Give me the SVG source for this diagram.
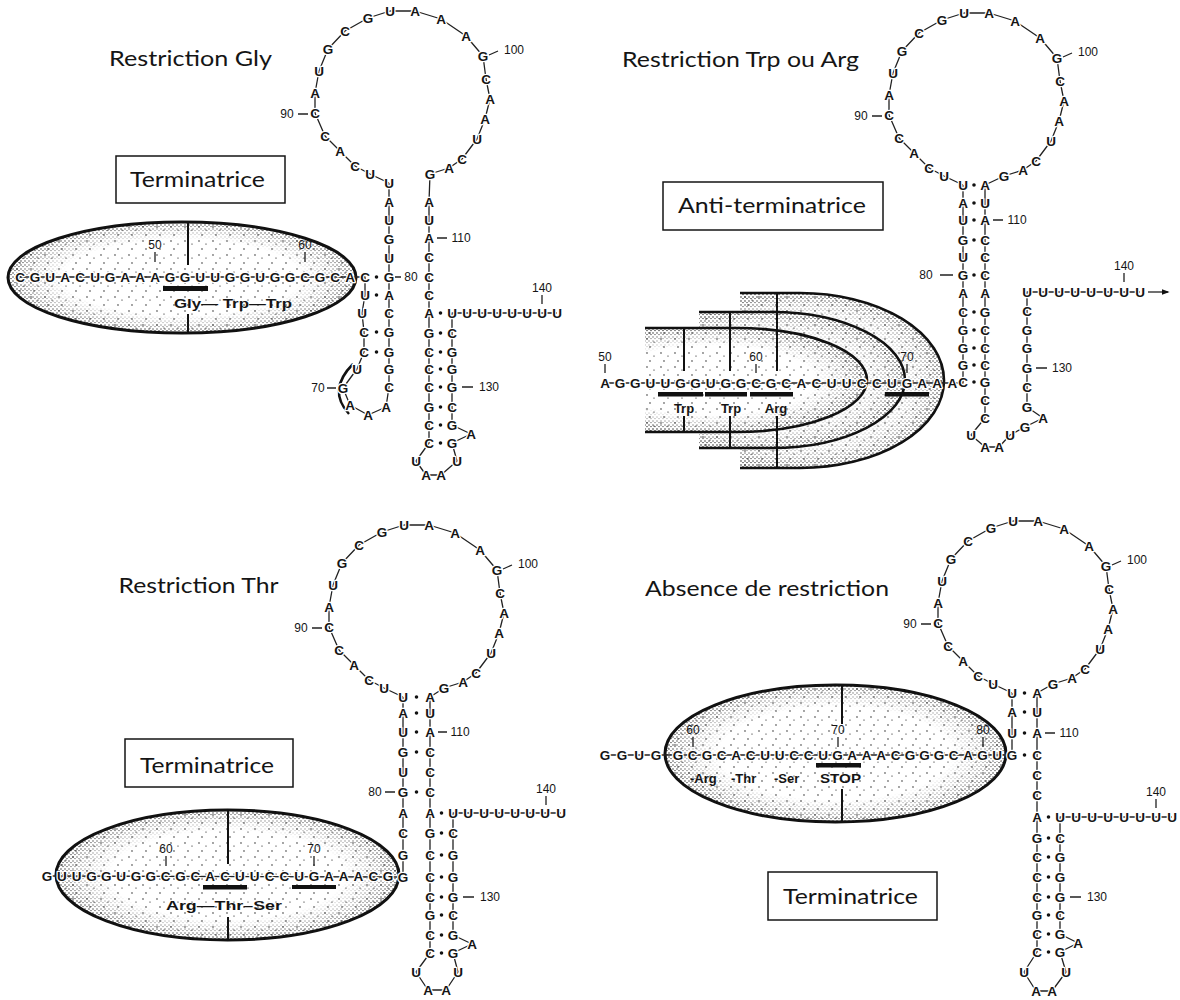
<svg xmlns="http://www.w3.org/2000/svg" width="1180" height="1000" viewBox="0 0 1180 1000">
<style>
.n{font-family:'Liberation Sans',Arial,sans-serif;font-size:13.5px;font-weight:bold;text-anchor:middle;dominant-baseline:central;fill:#151515;stroke:#fff;stroke-width:2.6px;paint-order:stroke;stroke-linejoin:round}
.num{font-family:'Liberation Sans',Arial,sans-serif;font-size:12px;text-anchor:middle;dominant-baseline:central;fill:#151515}
.lbl{font-family:'Liberation Sans',Arial,sans-serif;font-size:13px;font-weight:bold;fill:#151515}
.lblc{font-family:'Liberation Sans',Arial,sans-serif;font-size:13px;font-weight:bold;fill:#151515;text-anchor:middle}
.ttl{font-family:Lato,'Open Sans',sans-serif;font-size:22px;fill:#151515}
.box{fill:#fff;stroke:#151515;stroke-width:1.5}
.bb{fill:none;stroke:#222;stroke-width:1.3;stroke-linejoin:round}
.tk{stroke:#222;stroke-width:1.3;fill:none}
.dots{stroke:#111;stroke-width:3.6;stroke-linecap:round;fill:none}
.out{fill:none;stroke:#111;stroke-width:3}
.outd{fill:none;stroke:#111;stroke-width:2.6}
.vl{stroke:#111;stroke-width:2;fill:none}
.bar{fill:#111}
</style>
<defs>
<pattern id="sp" width="14" height="14" patternUnits="userSpaceOnUse">
<circle cx="3" cy="3" r=".65"/><circle cx="10" cy="6" r=".6"/><circle cx="6" cy="11" r=".65"/>
</pattern>
<pattern id="dn" width="4" height="4" patternUnits="userSpaceOnUse">
<circle cx="1" cy="1" r=".7"/><circle cx="3" cy="2.6" r=".65"/>
</pattern>
<radialGradient id="rg" cx="0.5" cy="0.5" r="0.5"><stop offset="0.68" stop-color="#000"/><stop offset="0.88" stop-color="#888"/><stop offset="1" stop-color="#fff"/></radialGradient>
<radialGradient id="rgD" cx="0.3" cy="0.5" r="0.5" gradientTransform="translate(0.3 0.5) scale(1.4 1) translate(-0.3 -0.5)"><stop offset="0.66" stop-color="#000"/><stop offset="0.88" stop-color="#888"/><stop offset="1" stop-color="#fff"/></radialGradient>
<mask id="edge" maskUnits="objectBoundingBox" maskContentUnits="objectBoundingBox" x="-0.05" y="-0.05" width="1.1" height="1.1"><rect x="0" y="0" width="1" height="1" fill="url(#rg)"/></mask>
<mask id="edgeD" maskUnits="objectBoundingBox" maskContentUnits="objectBoundingBox" x="-0.05" y="-0.05" width="1.1" height="1.1"><rect x="0" y="0" width="1" height="1" fill="url(#rgD)"/></mask>
<marker id="ah" viewBox="0 0 10 10" refX="8" refY="5" markerWidth="8" markerHeight="8" orient="auto" markerUnits="userSpaceOnUse"><path d="M0,1.5L10,5L0,8.5Z" fill="#111"/></marker>
<g id="loopLine"><polyline class="bb" points="-13,86 -32,77 -47,69 -62,54 -77,39 -87,16 -87,-4 -83,-26 -74,-48 -57,-66 -34,-79 -12,-86 13,-86 39,-78 64,-61 81,-41 84,-18 88,2 83,22 75,42 60,62 47,71 28,77"/></g>
<g id="loopText">
<text class="n" x="-13 -32 -47 -62 -77 -87 -87 -83 -74 -57 -34 -12 13 39 64 81 84 88 83 75 60 47 28" y="86 77 69 54 39 16 -4 -26 -48 -66 -79 -86 -86 -78 -61 -41 -18 2 22 42 62 71 77">UUCACCAUGCGUAAAGCAAUCAG</text>
<path class="tk" d="M-104,17H-94M87,-42L96,-46"/>
<text class="num" x="-115" y="17">90</text>
<text class="num" x="112" y="-47">100</text>
</g>
</defs>
<rect width="1180" height="1000" fill="#fff"/>

<!-- Stippled polymerase / ribosome shapes -->
<g id="p1-rnap">
<ellipse cx="182" cy="277.5" rx="174" ry="55.5" fill="#fff"/>
<ellipse cx="182" cy="277.5" rx="174" ry="55.5" fill="url(#sp)"/>
<ellipse cx="182" cy="277.5" rx="174" ry="55.5" fill="url(#dn)" mask="url(#edge)"/>
<ellipse cx="182" cy="277.5" rx="174" ry="55.5" class="out"/>
<path class="vl" d="M188,222V265M188,314V333"/>
</g>
<g id="p2-ribosomes">
<path d="M740,293H800A144,87.5 0 0 1 800,468H740Z" fill="#fff"/>
<path d="M740,293H800A144,87.5 0 0 1 800,468H740Z" fill="url(#sp)"/>
<path d="M740,293H800A144,87.5 0 0 1 800,468H740Z" fill="url(#dn)" mask="url(#edgeD)"/>
<path d="M740,293H800A144,87.5 0 0 1 800,468H740" class="outd"/>
<path d="M699,312H772A133,68 0 0 1 772,448H699Z" fill="#fff"/>
<path d="M699,312H772A133,68 0 0 1 772,448H699Z" fill="url(#sp)"/>
<path d="M699,312H772A133,68 0 0 1 772,448H699Z" fill="url(#dn)" mask="url(#edgeD)"/>
<path d="M699,312H772A133,68 0 0 1 772,448H699" class="outd"/>
<path d="M645,328H737A130,52 0 0 1 737,432H645Z" fill="#fff"/>
<path d="M645,328H737A130,52 0 0 1 737,432H645Z" fill="url(#sp)"/>
<path d="M645,328H737A130,52 0 0 1 737,432H645Z" fill="url(#dn)" mask="url(#edgeD)"/>
<path d="M645,328H737A130,52 0 0 1 737,432H645" class="outd"/>
<path class="vl" d="M684,328V371M684,416V432M730,312V371M730,416V448M777,293V371M777,416V468"/>
</g>
<g id="p3-rnap">
<ellipse cx="227.5" cy="875" rx="171.5" ry="65" fill="#fff"/>
<ellipse cx="227.5" cy="875" rx="171.5" ry="65" fill="url(#sp)"/>
<ellipse cx="227.5" cy="875" rx="171.5" ry="65" fill="url(#dn)" mask="url(#edge)"/>
<ellipse cx="227.5" cy="875" rx="171.5" ry="65" class="out"/>
<path class="vl" d="M228,810V864M228,917V940"/>
</g>
<g id="p4-rnap">
<ellipse cx="835.5" cy="753.5" rx="170.5" ry="68.5" fill="#fff"/>
<ellipse cx="835.5" cy="753.5" rx="170.5" ry="68.5" fill="url(#sp)"/>
<ellipse cx="835.5" cy="753.5" rx="170.5" ry="68.5" fill="url(#dn)" mask="url(#edge)"/>
<ellipse cx="835.5" cy="753.5" rx="170.5" ry="68.5" class="out"/>
<path class="vl" d="M842,685V724M842,789V822"/>
</g>

<!-- Backbone connectors -->
<g id="backbones">
<polyline class="bb" points="20,277 365,277 365,295 362,313 364,332 364,352 357,369 343,388 350,405 368,415 386,407 389,387 389,183"/>
<use href="#loopLine" transform="translate(402 97)"/>
<polyline class="bb" points="430,174 429,202 429,443 416,461 426,475 441,475 457,461 452,443 471,434 452,425 452,313 557,313"/>
<polyline class="bb" points="605,383 963,383 963,185"/>
<use href="#loopLine" transform="translate(976 99)"/>
<polyline class="bb" points="1004,176 985,185 985,418 971,435 985,447 999,447 1010,435 1025,427 1043,418 1027,407 1027,292 1140,292"/>
<line class="bb" x1="1148" y1="292" x2="1168" y2="292" marker-end="url(#ah)"/>
<polyline class="bb" points="47,876 403,877 403,697"/>
<use href="#loopLine" transform="translate(416 611)"/>
<polyline class="bb" points="444,688 430,697 430,953 416,972 428,990 446,990 458,972 453,953 472,944 453,935 453,813 561,813"/>
<polyline class="bb" points="605,755 1012,755 1012,693"/>
<use href="#loopLine" transform="translate(1025 607)"/>
<polyline class="bb" points="1053,684 1037,693 1037,952 1024,972 1036,991 1052,991 1066,972 1060,952 1078,943 1060,934 1060,817 1172,817"/>
</g>

<!-- Panel 1 : Restriction Gly -->
<g id="p1-title"><text class="ttl" x="109" y="66" textLength="163" lengthAdjust="spacingAndGlyphs">Restriction Gly</text></g>
<g id="p1-box"><rect class="box" x="116" y="156" width="169" height="47"/><text class="ttl" x="130" y="187" font-size="21" textLength="135" lengthAdjust="spacingAndGlyphs">Terminatrice</text></g>
<g id="p1-rna">
<path d="M353,364Q327,390 349,414" fill="none" stroke="#111" stroke-width="2.5"/>
<rect class="bar" x="163" y="286" width="45" height="5"/>
<text class="n" x="20 35 50 65 80 95 110 125 140 155 170 185 200 215 230 245 260 275 290 305 320 335 350" y="277">CGUACUGAAAGGUUGGUGGCGCA</text>
<text class="n" x="365 365 362 364 364 357 343 350 368 386 389 389 389 389 389 389 389 389 389 389 389" y="277 295 313 332 352 369 388 405 415 407 387 369 352 332 313 295 277 258 239 220 202">CUUCCUGAAACGGGCAGUGUA</text>
<use href="#loopText" transform="translate(402 97)"/>
<text class="n" x="429 429 429 429 429 429 429 429 429 429 429 429 429 429" y="202 220 238 257 277 295 313 333 352 369 387 407 425 443">AUACCCAGCCCGCC</text>
<text class="n" x="416 426 441 457" y="461 475 475 461">UAAU</text>
<text class="n" x="452 471 452 452 452 452 452 452" y="443 434 425 407 387 369 352 333">GAGCGGGC</text>
<text class="n" x="452 467 482 497 512 527 542 557" y="313">UUUUUUUU</text>
<path class="dots" d="M376.5,277h0M376.5,295h0M376.5,332h0M376.5,352h0M440.5,313h0M440.5,333h0M440.5,352h0M440.5,369h0M440.5,387h0M440.5,407h0M440.5,425h0M440.5,443h0"/>
<path class="tk" d="M155,252V262M305,252V262M327,388H336M395,277H401M437,238H447M462,387H473M542,295V304"/>
<text class="num" x="155" y="245">50</text><text class="num" x="305" y="245">60</text><text class="num" x="318" y="388">70</text><text class="num" x="411" y="277">80</text><text class="num" x="461" y="238">110</text><text class="num" x="489" y="387">130</text><text class="num" x="542" y="288">140</text>
<text class="lbl" x="174" y="308" textLength="118" lengthAdjust="spacingAndGlyphs">Gly— Trp—Trp</text>
</g>

<!-- Panel 2 : Restriction Trp ou Arg -->
<g id="p2-title"><text class="ttl" x="622" y="67" textLength="237" lengthAdjust="spacingAndGlyphs">Restriction Trp ou Arg</text></g>
<g id="p2-box"><rect class="box" x="663" y="182" width="220" height="48"/><text class="ttl" x="678" y="213" font-size="21" textLength="188" lengthAdjust="spacingAndGlyphs">Anti-terminatrice</text></g>
<g id="p2-rna">
<rect class="bar" x="658" y="392" width="45" height="4.5"/><rect class="bar" x="705" y="392" width="42" height="4.5"/><rect class="bar" x="750" y="392" width="43" height="4.5"/><rect class="bar" x="885" y="392" width="44" height="4.5"/>
<text class="n" x="605 620.1 635.2 650.3 665.4 680.5 695.6 710.7 725.8 740.9 756 771.1 786.2 801.3 816.4 831.5 846.6 861.7 876.8 891.9 907 922.1 937.2 952.3" y="383">AGGUUGGUGGCGCACUUCCUGAAA</text>
<text class="n" x="963 963 963 963 963 963 963 963 963 963 963" y="382 365 348 330 312 293 275 257 240 220 203">CGGGCAGUGUA</text>
<use href="#loopText" transform="translate(976 99)"/>
<text class="n" x="985 985 985 985 985 985 985 985 985 985 985 985 985 985" y="185 203 220 240 257 275 293 312 330 348 365 382 400 418">AUACCCAGCCCGCC</text>
<text class="n" x="971 985 999 1010" y="435 447 447 435">UAAU</text>
<text class="n" x="1025 1043 1027 1027 1027 1027 1027 1027" y="427 418 407 387 368 348 330 311">GAGCGGGC</text>
<text class="n" x="1027 1043 1059 1075 1091 1108 1124 1140" y="292">UUUUUUUU</text>
<path class="dots" d="M974,185h0M974,203h0M974,220h0M974,240h0M974,275h0M974,312h0M974,330h0M974,348h0M974,365h0M974,382h0"/>
<path class="tk" d="M605,364V373M756,364V373M907,364V373M940,275H953M993,220H1003M1036,368H1047M1124,273V282"/>
<text class="num" x="605" y="357">50</text><text class="num" x="756" y="357">60</text><text class="num" x="907" y="357">70</text><text class="num" x="926" y="275">80</text><text class="num" x="1017" y="220">110</text><text class="num" x="1062" y="368">130</text><text class="num" x="1124" y="266">140</text>
<text class="lblc" x="684" y="413">Trp</text><text class="lblc" x="731" y="413">Trp</text><text class="lblc" x="776" y="413">Arg</text>
</g>

<!-- Panel 3 : Restriction Thr -->
<g id="p3-title"><text class="ttl" x="118.5" y="593" textLength="160" lengthAdjust="spacingAndGlyphs">Restriction Thr</text></g>
<g id="p3-box"><rect class="box" x="125" y="739" width="168" height="48"/><text class="ttl" x="140" y="773" font-size="21" textLength="134" lengthAdjust="spacingAndGlyphs">Terminatrice</text></g>
<g id="p3-rna">
<rect class="bar" x="203" y="885" width="44" height="4.5"/><rect class="bar" x="292" y="885" width="44" height="4"/>
<text class="n" x="47 61.8 76.7 91.5 106.3 121.2 136 150.8 165.6 180.5 195.3 210.1 225 239.8 254.6 269.5 284.3 299.1 313.9 328.8 343.6 358.4 373.3 388.1" y="876">GUUGGUGGCGCACUUCCUGAAACG</text>
<text class="n" x="403 403 403 403 403 403 403 403 403" y="877 855 833 813 792 772 752 732 713">GGCAGUGUA</text>
<use href="#loopText" transform="translate(416 611)"/>
<text class="n" x="430 430 430 430 430 430 430 430 430 430 430 430 430 430" y="697 713 732 752 772 792 813 833 855 877 897 915 935 953">AUACCCAGCCCGCC</text>
<text class="n" x="416 428 446 458" y="972 990 990 972">UAAU</text>
<text class="n" x="453 472 453 453 453 453 453 453" y="953 944 935 915 897 877 855 833">GAGCGGGC</text>
<text class="n" x="453 468 484 499 515 530 545 561" y="813">UUUUUUUU</text>
<path class="dots" d="M416.5,697h0M416.5,713h0M416.5,732h0M416.5,752h0M416.5,792h0M441.5,813h0M441.5,833h0M441.5,855h0M441.5,877h0M441.5,897h0M441.5,915h0M441.5,935h0M441.5,953h0"/>
<path class="tk" d="M166,856V866M314,856V866M385,792H395M438,732H447M463,897H474M546,796V805"/>
<text class="num" x="166" y="849">60</text><text class="num" x="314" y="849">70</text><text class="num" x="375" y="792">80</text><text class="num" x="460" y="732">110</text><text class="num" x="490" y="897">130</text><text class="num" x="546" y="789">140</text>
<text class="lbl" x="166" y="910" textLength="116" lengthAdjust="spacingAndGlyphs">Arg—Thr–Ser</text>
</g>

<!-- Panel 4 : Absence de restriction -->
<g id="p4-title"><text class="ttl" x="645" y="596" textLength="244" lengthAdjust="spacingAndGlyphs">Absence de restriction</text></g>
<g id="p4-box"><rect class="box" x="768" y="872" width="169" height="48"/><text class="ttl" x="783" y="904" font-size="21" textLength="135" lengthAdjust="spacingAndGlyphs">Terminatrice</text></g>
<g id="p4-rna">
<rect class="bar" x="816" y="763" width="45" height="4.5"/>
<text class="n" x="605 622 639 656 678 692.5 707 721.5 736 750.5 765 779.5 794 808.5 823 837.5 852 866.5 881 895.5 910 924.5 939 953.5 968 982.5 997" y="755">GGUGGCGCACUUCCUGAAACGGGCAGU</text>
<text class="n" x="1012 1012 1012" y="755 733 712">GUA</text>
<use href="#loopText" transform="translate(1025 607)"/>
<text class="n" x="1037 1037 1037 1037 1037 1037 1037 1037 1037 1037 1037 1037 1037 1037" y="693 712 733 755 775 795 817 838 857 877 897 915 934 952">AUACCCAGCCCGCC</text>
<text class="n" x="1024 1036 1052 1066" y="972 991 991 972">UAAU</text>
<text class="n" x="1060 1078 1060 1060 1060 1060 1060 1060" y="952 943 934 915 897 877 857 838">GAGCGGGC</text>
<text class="n" x="1060 1076 1092 1108 1124 1140 1156 1172" y="817">UUUUUUUU</text>
<path class="dots" d="M1024.5,693h0M1024.5,712h0M1024.5,733h0M1024.5,755h0M1048.5,817h0M1048.5,838h0M1048.5,857h0M1048.5,877h0M1048.5,897h0M1048.5,915h0M1048.5,934h0M1048.5,952h0"/>
<path class="tk" d="M693,737V747M838,737V747M983,737V747M1045,733H1055M1070,897H1081M1156,799V808"/>
<text class="num" x="693" y="730">60</text><text class="num" x="838" y="730">70</text><text class="num" x="983" y="730">80</text><text class="num" x="1069" y="733">110</text><text class="num" x="1097" y="897">130</text><text class="num" x="1156" y="792">140</text>
<text class="lbl" x="690" y="783">-Arg</text><text class="lbl" x="731" y="783">-Thr</text><text class="lbl" x="774" y="783">-Ser</text><text class="lbl" x="820" y="783" textLength="41" lengthAdjust="spacingAndGlyphs">STOP</text>
</g>
</svg>
